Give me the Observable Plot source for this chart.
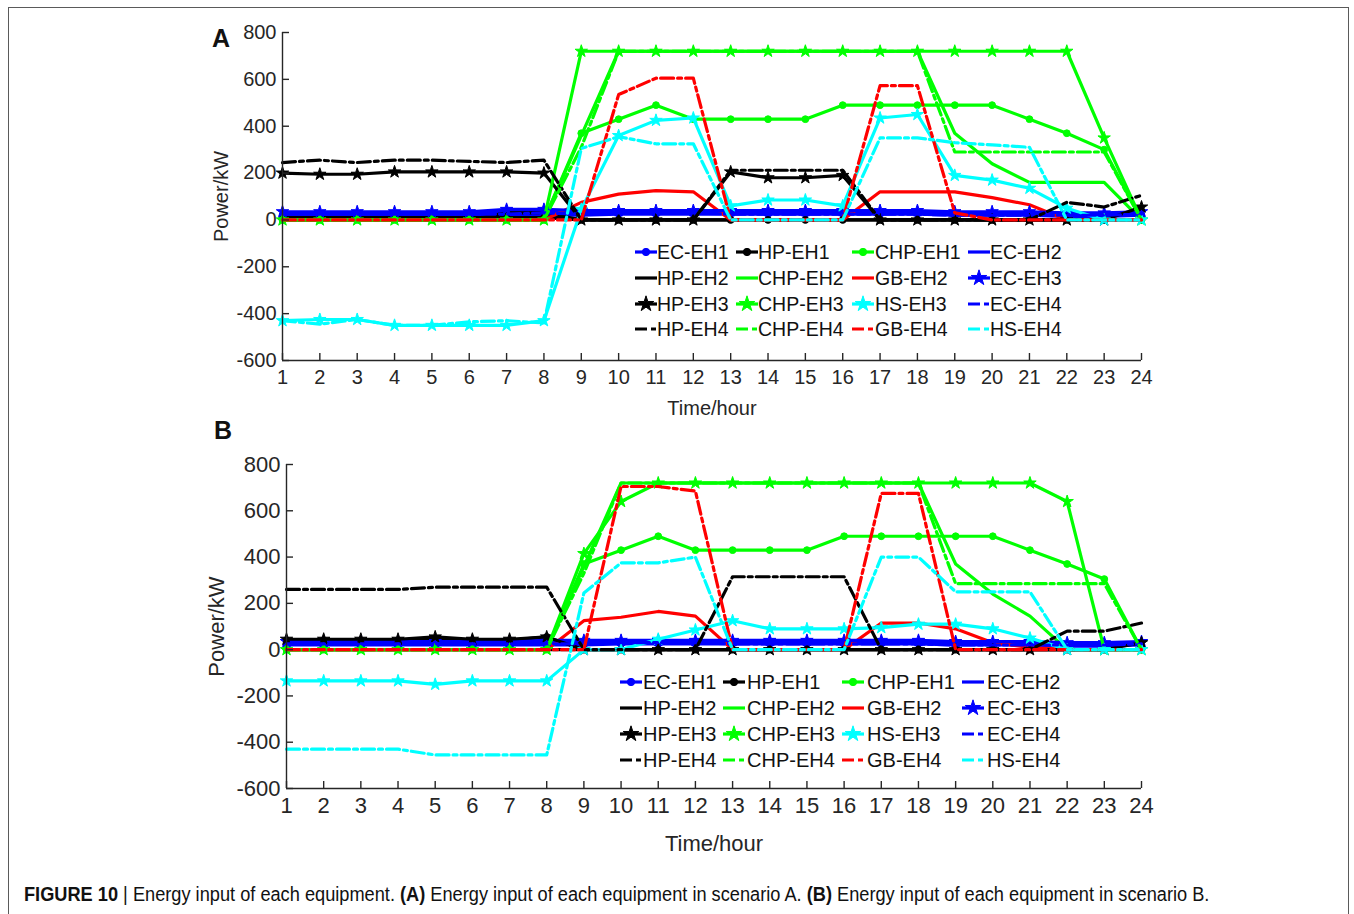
<!DOCTYPE html>
<html><head><meta charset="utf-8">
<script src="https://cdn.jsdelivr.net/npm/d3@7"></script>
<script src="https://cdn.jsdelivr.net/npm/@observablehq/plot@0.6"></script>
<style>
body{margin:0;background:#fff;font-family:"Liberation Sans",Arial,sans-serif;}
#root{position:relative;width:1354px;height:914px;overflow:hidden;background:#fff;}
.frame{position:absolute;left:8px;top:7px;width:1341px;height:940px;border:1.5px solid #5a5a5a;box-sizing:border-box;}
.panel{position:absolute;left:0;}
.letter{position:absolute;font-weight:bold;font-size:25px;color:#111;}
.cap{position:absolute;left:24px;top:883px;font-family:"Liberation Sans Narrow","Arial Narrow","Liberation Sans",sans-serif;font-size:20px;color:#111;white-space:nowrap;transform:scaleX(0.91);transform-origin:left top;}
#legend{position:absolute;left:0;top:0;}
</style></head>
<body><div id="root">
<div class="frame"></div>
<div id="pa" class="panel" style="top:0"></div>
<div id="pb" class="panel" style="top:420px"></div>
<div class="letter" style="left:212px;top:24px">A</div>
<div class="letter" style="left:214px;top:416px">B</div>
<div class="cap"><b>FIGURE 10</b> | Energy input of each equipment. <b>(A)</b> Energy input of each equipment in scenario A. <b>(B)</b> Energy input of each equipment in scenario B.</div>
</div>
<script>
// ---------- data ----------
const hours = [1,2,3,4,5,6,7,8,9,10,11,12,13,14,15,16,17,18,19,20,21,22,23,24];
const xTicks = [1,2,3,4,5,6,7,8,9,10,11,12,13,14,15,16,17,18,19,20,21,22,23,24];
const yTicks = [-600,-400,-200,0,200,400,600,800];
const seriesNames = ["EC-EH1","HP-EH1","CHP-EH1","EC-EH2","HP-EH2","CHP-EH2","GB-EH2","EC-EH3","HP-EH3","CHP-EH3","HS-EH3","EC-EH4","HP-EH4","CHP-EH4","GB-EH4","HS-EH4"];

// Scenario A
const aEC_EH1  = [20,20,20,20,20,20,20,20,20,25,25,25,25,25,25,25,25,25,20,20,20,15,15,20];
const aHP_EH1  = [10,10,10,10,10,10,10,10,0,0,0,0,0,0,0,0,0,0,0,0,0,0,0,0];
const aCHP_EH1 = [0,0,0,0,0,0,0,0,370,430,490,430,430,430,430,490,490,490,490,490,430,370,300,0];
const aEC_EH2  = [30,30,30,30,30,30,35,35,30,35,35,35,35,35,35,35,35,35,30,30,30,25,25,30];
const aHP_EH2  = [0,0,0,0,0,0,30,30,0,0,0,0,0,0,0,0,0,0,0,0,0,0,0,0];
const aCHP_EH2 = [0,0,0,0,0,0,0,0,360,720,720,720,720,720,720,720,720,720,370,240,160,160,160,0];
const aGB_EH2  = [0,0,0,0,0,0,0,0,75,110,125,120,0,0,0,0,120,120,120,95,65,0,0,0];
const aEC_EH3  = [35,35,35,35,35,35,45,45,40,40,40,40,40,40,40,40,40,40,35,35,35,30,30,35];
const aHP_EH3  = [200,195,195,205,205,205,205,200,0,0,0,0,205,180,180,190,0,0,0,0,0,0,0,55];
const aCHP_EH3 = [0,0,0,0,0,0,0,0,720,720,720,720,720,720,720,720,720,720,720,720,720,720,350,0];
const aHS_EH3  = [-430,-425,-425,-450,-450,-450,-450,-430,45,360,425,435,60,85,85,60,435,450,190,170,135,50,0,0];
const aEC_EH4  = [25,25,25,25,25,25,25,30,25,30,30,30,25,25,25,25,25,25,20,20,20,20,20,25];
const aHP_EH4  = [245,255,245,255,255,250,245,255,0,0,0,0,212,212,212,212,0,0,0,0,0,75,55,105];
const aCHP_EH4 = [0,0,0,0,0,0,0,0,310,720,720,720,720,720,720,720,720,720,290,290,290,290,290,0];
const aGB_EH4  = [0,0,0,0,0,0,0,0,0,535,605,605,0,0,0,0,573,573,30,0,0,0,0,0];
const aHS_EH4  = [-430,-445,-425,-450,-450,-435,-430,-440,305,355,325,325,0,0,0,0,350,350,330,320,310,0,0,0];

// Scenario B
const bEC_EH1  = [20,20,20,20,20,20,20,20,20,25,25,25,25,25,25,25,25,25,20,20,20,15,15,20];
const bHP_EH1  = [40,40,40,40,45,40,40,55,0,0,0,0,0,0,0,0,0,0,0,0,0,0,0,0];
const bCHP_EH1 = [0,0,0,0,0,0,0,0,370,430,490,430,430,430,430,490,490,490,490,490,430,370,305,0];
const bEC_EH2  = [30,30,30,30,30,30,30,30,30,35,35,35,35,35,35,35,35,35,30,30,30,25,25,30];
const bHP_EH2  = [0,0,0,0,0,0,0,0,0,0,0,0,0,0,0,0,0,0,0,0,0,0,0,0];
const bCHP_EH2 = [0,0,0,0,0,0,0,0,360,720,720,720,720,720,720,720,720,720,370,240,145,0,0,0];
const bGB_EH2  = [0,0,0,0,0,0,0,0,125,140,165,145,0,0,0,0,115,115,90,30,10,0,0,0];
const bEC_EH3  = [35,35,35,35,35,35,35,40,40,40,40,40,40,40,40,40,40,40,35,35,35,30,30,35];
const bHP_EH3  = [45,45,45,45,55,45,45,55,0,0,0,0,0,0,0,0,0,0,0,0,0,0,0,30];
const bCHP_EH3 = [0,0,0,0,0,0,0,0,415,640,720,720,720,720,720,720,720,720,720,720,720,640,0,0];
const bHS_EH3  = [-135,-135,-135,-135,-150,-135,-135,-135,0,0,45,85,125,90,90,90,95,110,110,90,50,0,0,0];
const bEC_EH4  = [25,25,25,25,25,25,25,25,25,30,30,30,25,25,25,25,25,25,20,20,20,20,20,25];
const bHP_EH4  = [260,260,260,260,270,270,270,270,0,0,0,0,315,315,315,315,0,0,0,0,0,80,80,115];
const bCHP_EH4 = [0,0,0,0,0,0,0,0,330,720,720,720,720,720,720,720,720,720,285,285,285,285,285,0];
const bGB_EH4  = [0,0,0,0,0,0,0,0,0,705,705,685,0,0,0,0,675,675,0,0,0,0,0,0];
const bHS_EH4  = [-430,-430,-430,-430,-455,-455,-455,-455,245,375,375,400,0,0,0,0,400,400,250,250,250,0,0,0];

const seriesA = [aEC_EH1,aHP_EH1,aCHP_EH1,aEC_EH2,aHP_EH2,aCHP_EH2,aGB_EH2,aEC_EH3,aHP_EH3,aCHP_EH3,aHS_EH3,aEC_EH4,aHP_EH4,aCHP_EH4,aGB_EH4,aHS_EH4];
const seriesB = [bEC_EH1,bHP_EH1,bCHP_EH1,bEC_EH2,bHP_EH2,bCHP_EH2,bGB_EH2,bEC_EH3,bHP_EH3,bCHP_EH3,bHS_EH3,bEC_EH4,bHP_EH4,bCHP_EH4,bGB_EH4,bHS_EH4];

// ---------- styles ----------
const seriesColor = ["#0000ff","#000000","#00ff00","#0000ff","#000000","#00ff00","#ff0000","#0000ff","#000000","#00ff00","#00ffff","#0000ff","#000000","#00ff00","#ff0000","#00ffff"];
const seriesMarker = ["circle","circle","circle",null,null,null,null,"star","star","star","star",null,null,null,null,null];
const seriesDashed = [false,false,false,false,false,false,false,false,false,false,false,true,true,true,true,true];
const DASH = "13,4,4,4";
const axisColor = "#262626";

function table(values) {
  const rows = [];
  seriesNames.forEach((s, i) => values[i].forEach((v, j) => rows.push({series: s, hour: hours[j], value: v})));
  return rows;
}

function panel(values, cfg) {
  const rows = table(values);
  const marks = [];
  seriesNames.forEach((s, i) => {
    const d = rows.filter(r => r.series === s);
    marks.push(Plot.line(d, {x: "hour", y: "value", stroke: seriesColor[i], strokeWidth: 3.2,
      strokeDasharray: seriesDashed[i] ? DASH : null, strokeLinejoin: "round"}));
    if (seriesMarker[i]) {
      marks.push(Plot.dot(d, {x: "hour", y: "value", symbol: seriesMarker[i],
        r: seriesMarker[i] === "star" ? 3.9 : 3.4, fill: seriesColor[i], stroke: seriesColor[i], strokeWidth: 1}));
    }
  });
  // axis lines
  marks.push(Plot.ruleX([1], {y1: -600, y2: 800, stroke: axisColor, strokeWidth: 1.4}));
  marks.push(Plot.ruleY([-600], {x1: 1, x2: 24, stroke: axisColor, strokeWidth: 1.4}));
  // inward ticks
  marks.push(Plot.axisY(yTicks, {anchor: "left", tickSize: 7, dx: 7, tickFormat: () => "", label: null, stroke: axisColor, strokeWidth: 1.4}));
  marks.push(Plot.axisX(xTicks, {anchor: "bottom", tickSize: 7, dy: -7, tickFormat: () => "", label: null, stroke: axisColor, strokeWidth: 1.4}));
  // tick labels + titles
  marks.push(Plot.axisY(yTicks, {anchor: "left", tickSize: 0, tickPadding: 6, fontSize: cfg.fs, fill: axisColor,
    tickFormat: d => String(d),
    label: "Power/kW", labelAnchor: "center", labelOffset: cfg.yLabOff, labelArrow: "none"}));
  marks.push(Plot.axisX(xTicks, {anchor: "bottom", tickSize: 0, tickPadding: 9, fontSize: cfg.fs, fill: axisColor,
    tickFormat: d => String(d),
    label: "Time/hour", labelAnchor: "center", labelOffset: cfg.xLabOff, labelArrow: "none"}));
  return Plot.plot({
    width: 1354, height: cfg.h,
    marginLeft: cfg.ml, marginRight: 1354 - 1141, marginTop: cfg.mt, marginBottom: cfg.mb,
    x: {type: "linear", domain: [1, 24]},
    y: {type: "linear", domain: [-600, 800]},
    style: {fontFamily: "'Liberation Sans', Arial, sans-serif", fontSize: cfg.fs + "px", color: axisColor, background: "transparent", overflow: "visible"},
    marks
  });
}

document.getElementById("pa").appendChild(panel(seriesA, {h: 430, ml: 282, mt: 32, mb: 70, fs: 20, yLabOff: 69, xLabOff: 54}));
document.getElementById("pb").appendChild(panel(seriesB, {h: 440, ml: 286, mt: 44, mb: 72, fs: 22, yLabOff: 78, xLabOff: 62}));

// ---------- legends ----------
const svg = d3.select("#root").append("svg").attr("id", "legend").attr("width", 1354).attr("height", 914);
function legend(cols, textCols, rowsY, fs, lineLen) {
  seriesNames.forEach((s, i) => {
    const r = Math.floor(i / 4), c = i % 4;
    const x0 = cols[c], y0 = rowsY[r];
    const g = svg.append("g");
    g.append("line").attr("x1", x0).attr("x2", x0 + lineLen).attr("y1", y0).attr("y2", y0)
      .attr("stroke", seriesColor[i]).attr("stroke-width", 3.2)
      .attr("stroke-dasharray", seriesDashed[i] ? "12,4,5,3" : null);
    if (seriesMarker[i]) {
      const sym = d3.symbol(seriesMarker[i] === "star" ? d3.symbolStar : d3.symbolCircle, seriesMarker[i] === "star" ? 75 : 42);
      g.append("path").attr("d", sym()).attr("transform", `translate(${x0 + lineLen / 2},${y0})`)
        .attr("fill", seriesColor[i]).attr("stroke", seriesColor[i]);
    }
    g.append("text").attr("x", textCols[c]).attr("y", y0).attr("dy", "0.36em")
      .attr("font-size", fs).attr("font-family", "'Liberation Sans', Arial, sans-serif").attr("fill", "#111").text(s);
  });
}
legend([635, 736, 852, 968], [657, 758, 875, 990], [252, 278, 304, 329], 19.5, 22);
legend([620, 723, 842, 962], [643, 747, 867, 987], [682, 708, 734, 760], 20, 22);
</script>
</body></html>
